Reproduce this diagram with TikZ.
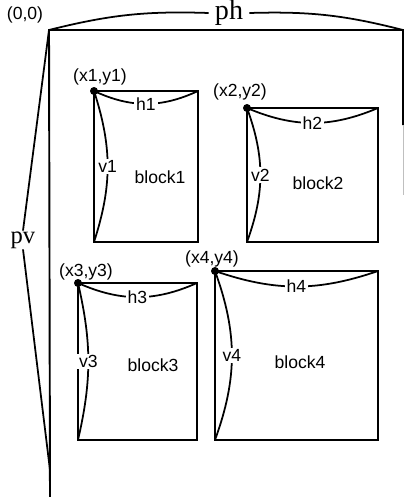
\documentclass[tikz,border=0pt]{standalone}
\usepackage{fontspec}
\setmainfont{Liberation Sans}
\newfontfamily\bigserif{Liberation Serif}
\begin{document}
\begin{tikzpicture}[x=0.02cm, y=-0.02cm, line width=1.1pt,
        blockbox/.style={draw, inner sep=0pt, outer sep=0pt, anchor=north west},
        corner/.style={font=\fontsize{10}{12}\selectfont, inner sep=1pt},
        dim/.style={line width=1pt},
        dimlabel/.style={fill=white, inner sep=1pt, font=\fontsize{10}{12}\selectfont},
        blocklabel/.style={font=\fontsize{10}{12}\selectfont}]
  \useasboundingbox (0,0) rectangle (405,497);
  % page and its sizes
  \coordinate (tl) at (49,30);
  \coordinate (tr) at (403,30);
  \coordinate (bl) at (50,497);
  \coordinate (rside) at (403,125);
  \coordinate (rfade) at (403,195);
  \draw (bl) -- (tl) -- (tr) -- (rside);
  \draw[line width=0.4pt, gray!50] (rside) -- (rfade);
  \node[corner] (origin) at (25,15) {(0,0)};
  \node[font=\bigserif\fontsize{16}{18}\selectfont, inner sep=3pt] (ph) at (229,13) {ph};
  \draw[dim] (tl) to[bend left=8] (ph.west);
  \draw[dim] (ph.east) to[bend left=8] (tr);
  \node[font=\bigserif\fontsize{14}{16}\selectfont, inner sep=0pt] (pv) at (23,240) {pv};
  \coordinate (pvtip) at (50,470);
  \draw[dim] (tl) -- (pv.north);
  \draw[dim] (pv.south) -- (pvtip);
  % blocks
  \node[blockbox, minimum width=2.08cm, minimum height=3.02cm] (block1) at (94,91) {};
  \node[blockbox, minimum width=2.62cm, minimum height=2.68cm] (block2) at (247,108) {};
  \node[blockbox, minimum width=2.38cm, minimum height=3.14cm] (block3) at (78,283) {};
  \node[blockbox, minimum width=3.26cm, minimum height=3.38cm] (block4) at (215,271) {};
  \node[blocklabel] (name1) at (160,177) {block1};
  \node[blocklabel] (name2) at (318,183) {block2};
  \node[blocklabel] (name3) at (153,365) {block3};
  \node[blocklabel] (name4) at (300,362) {block4};
  % corner points
  \foreach \b in {1,2,3,4}
    \fill (block\b.north west) circle[radius=0.08cm];
  \node[corner] (xy1) at (100,77) {(x1,y1)};
  \node[corner] (xy2) at (240,92) {(x2,y2)};
  \node[corner] (xy3) at (86,272) {(x3,y3)};
  \node[corner] (xy4) at (212,259) {(x4,y4)};
  % widths and heights
  \draw[dim] (block1.north west) to[bend right=25] node[dimlabel]{h1} (block1.north east);
  \draw[dim] (block1.north west) to[bend left=18] node[dimlabel]{v1} (block1.south west);
  \draw[dim] (block2.north west) to[bend right=23] node[dimlabel]{h2} (block2.north east);
  \draw[dim] (block2.north west) to[bend left=20] node[dimlabel]{v2} (block2.south west);
  \draw[dim] (block3.north west) to[bend right=24] node[dimlabel]{h3} (block3.north east);
  \draw[dim] (block3.north west) to[bend left=13] node[dimlabel]{v3} (block3.south west);
  \draw[dim] (block4.north west) to[bend right=19] node[dimlabel]{h4} (block4.north east);
  \draw[dim] (block4.north west) to[bend left=20] node[dimlabel]{v4} (block4.south west);
\end{tikzpicture}
\end{document}
